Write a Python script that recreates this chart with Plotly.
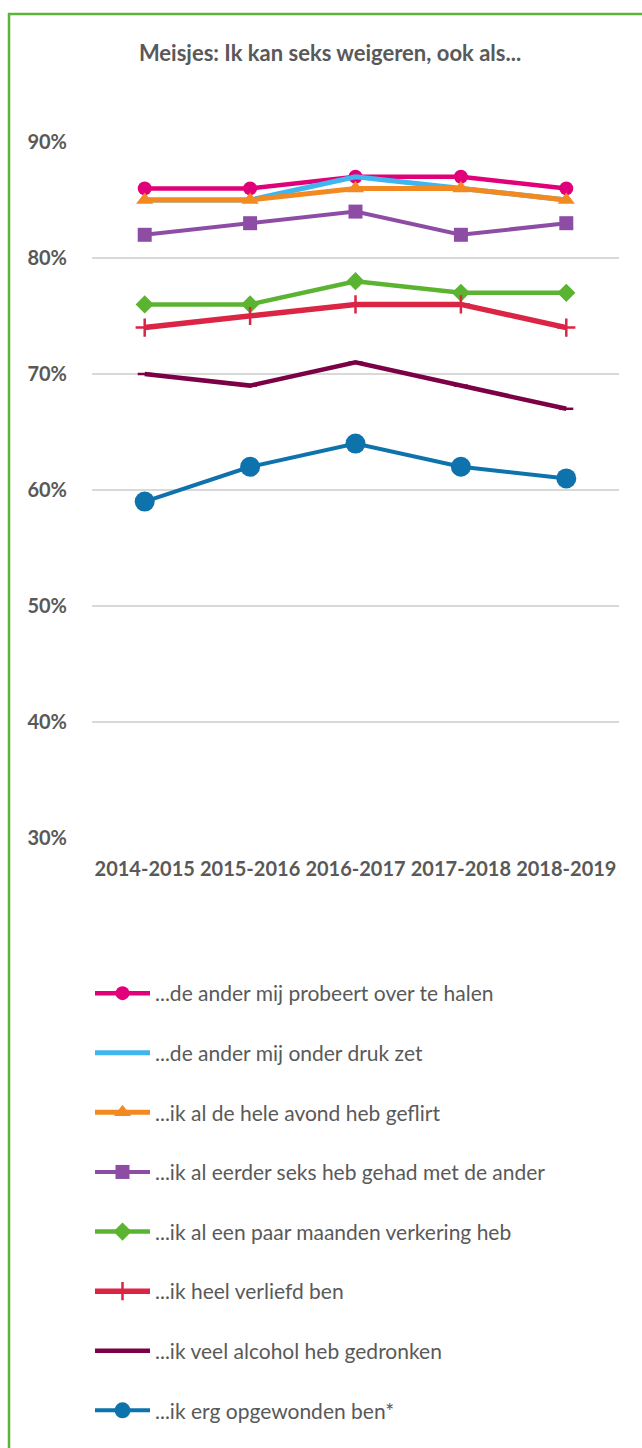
import plotly.graph_objects as go

years = ["2014-2015", "2015-2016", "2016-2017", "2017-2018", "2018-2019"]

names = [
    "...de ander mij probeert over te halen",
    "...de ander mij onder druk zet",
    "...ik al de hele avond heb geflirt",
    "...ik al eerder seks heb gehad met de ander",
    "...ik al een paar maanden verkering heb",
    "...ik heel verliefd ben",
    "...ik veel alcohol heb gedronken",
    "...ik erg opgewonden ben*",
]

overhalen = [0.86, 0.86, 0.87, 0.87, 0.86]
onder_druk = [0.85, 0.85, 0.87, 0.86, 0.85]
geflirt = [0.85, 0.85, 0.86, 0.86, 0.85]
eerder_seks = [0.82, 0.83, 0.84, 0.82, 0.83]
verkering = [0.76, 0.76, 0.78, 0.77, 0.77]
verliefd = [0.74, 0.75, 0.76, 0.76, 0.74]
alcohol = [0.70, 0.69, 0.71, 0.69, 0.67]
opgewonden = [0.59, 0.62, 0.64, 0.62, 0.61]

series = [overhalen, onder_druk, geflirt, eerder_seks, verkering, verliefd, alcohol, opgewonden]

colors = ["#E2007A", "#3FB6EE", "#F28A21", "#8E4DA5", "#5BB431", "#DB2545", "#7B0045", "#0E72AC"]
symbols = ["circle", None, "triangle-up", "square", "diamond", "cross-thin", "line-ew", "circle"]
msizes = [14, 0, 15, 14, 14, 13, 10, 20]
lwidths = [4.5, 5, 5, 4, 4.5, 5.5, 4.5, 4]

fig = go.Figure()
for i, (nm, vals) in enumerate(zip(names, series)):
    sym = symbols[i]
    if sym is None:
        mode = "lines"
        marker = dict()
    elif sym in ("cross-thin", "line-ew"):
        mode = "lines+markers"
        marker = dict(symbol=sym, size=msizes[i], color=colors[i], line=dict(color=colors[i], width=2.5))
    else:
        mode = "lines+markers"
        marker = dict(symbol=sym, size=msizes[i], color=colors[i])
    fig.add_trace(go.Scatter(
        x=years, y=vals, name=nm, mode=mode, marker=marker,
        line=dict(color=colors[i], width=lwidths[i]),
        legendgroup=f"g{i}", cliponaxis=False,
    ))

W, H = 642, 1448
L, T = 92, 142
R = W - 619
B = H - 838
pw, ph = W - L - R, H - T - B

def px_x(x):
    return (x - L) / pw

def px_y(y):
    return 1 - (y - T) / ph

gray = "#595959"
border = "#5DB43B"
fig.update_layout(
    width=W, height=H,
    margin=dict(l=L, r=R, t=T, b=B),
    paper_bgcolor="white", plot_bgcolor="white",
    title=dict(text="<b>Meisjes: Ik kan seks weigeren, ook als...</b>",
               xref="paper", x=px_x(330), xanchor="center",
               y=1 - 53 / H, yanchor="middle",
               font=dict(family="Lato", size=22, color=gray)),
    font=dict(family="Lato", color=gray),
    xaxis=dict(type="category", tickangle=0, showgrid=False, showline=False,
               range=[-0.5, 4.5], ticks="outside", ticklen=0, ticklabelstandoff=13,
               tickfont=dict(family="Lato", size=20, color=gray, weight="bold")),
    yaxis=dict(range=[0.3, 0.9], dtick=0.1, tickformat=".0%", showgrid=True,
               gridcolor="#D9D9D9", gridwidth=1.5, zeroline=False, showline=False,
               ticks="outside", ticklen=0, ticklabelstandoff=20,
               tickfont=dict(family="Lato", size=20, color=gray, weight="bold")),
    showlegend=True,
    legend=dict(x=px_x(90), xanchor="left", y=px_y(973), yanchor="top",
                orientation="v", tracegroupgap=29.3, itemwidth=55,
                font=dict(family="Lato", size=21, color=gray),
                bgcolor="rgba(0,0,0,0)"),
    shapes=[
        dict(type="line", xref="paper", yref="paper",
             x0=px_x(8), x1=px_x(700), y0=px_y(14), y1=px_y(14),
             line=dict(color=border, width=2.5), layer="below"),
        dict(type="line", xref="paper", yref="paper",
             x0=px_x(9), x1=px_x(9), y0=px_y(13), y1=px_y(1500),
             line=dict(color=border, width=2.5), layer="below"),
    ],
)

page_css = ("document.documentElement.style.margin='0';"
            "document.body.style.margin='0';"
            "document.documentElement.style.overflow='hidden';"
            "document.body.style.overflow='hidden';")

fig.write_html("out.html", post_script=page_css, config={"displayModeBar": False})
